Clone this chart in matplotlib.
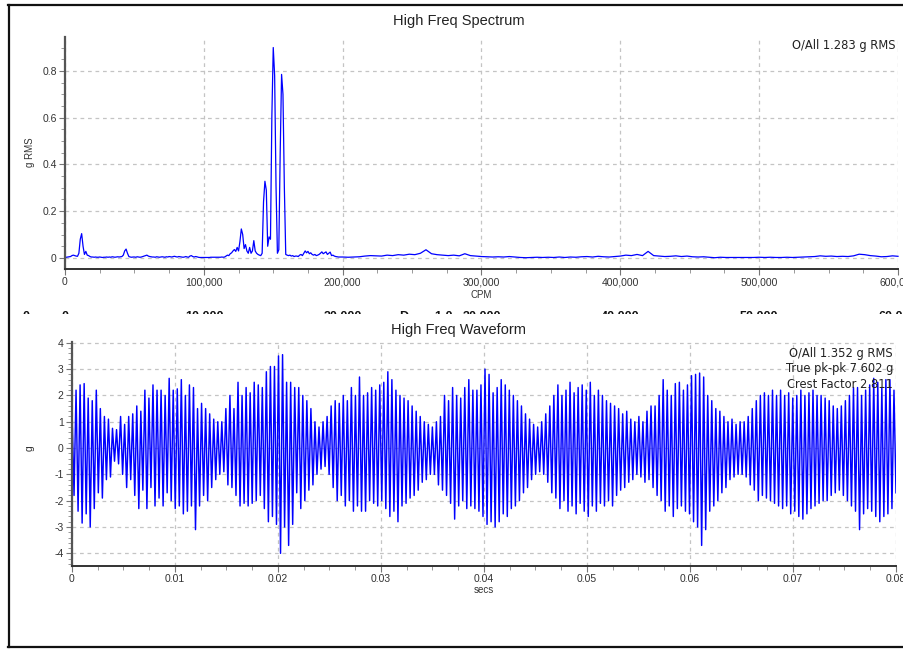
import numpy as np
import matplotlib
matplotlib.use('Agg')
import matplotlib.pyplot as plt
from matplotlib.ticker import MultipleLocator, FuncFormatter
from matplotlib.transforms import Bbox

plt.rcParams['font.family'] = ['Liberation Sans', 'DejaVu Sans']

# --- spectrum (g RMS), 0..199k CPM every 1000 CPM ---
spec_lo_step = 1000
spec_lo = [
    0.002, 0.003, 0.004, 0.005, 0.006, 0.01, 0.012, 0.01, 0.008, 0.007,
    0.02, 0.08, 0.104, 0.05, 0.015, 0.028, 0.012, 0.01, 0.006, 0.004,
    0.004, 0.003, 0.004, 0.003, 0.003, 0.004, 0.003, 0.002, 0.003, 0.003,
    0.004, 0.003, 0.004, 0.003, 0.005, 0.004, 0.003, 0.004, 0.005, 0.004,
    0.005, 0.006, 0.012, 0.03, 0.038, 0.02, 0.006, 0.004, 0.003, 0.004,
    0.004, 0.003, 0.005, 0.004, 0.003, 0.004, 0.006, 0.008, 0.01, 0.012,
    0.008, 0.006, 0.005, 0.004, 0.004, 0.003, 0.005, 0.004, 0.003, 0.004,
    0.005, 0.004, 0.003, 0.005, 0.004, 0.006, 0.005, 0.004, 0.006, 0.007,
    0.005, 0.004, 0.006, 0.005, 0.004, 0.003, 0.004, 0.006, 0.004, 0.003,
    0.008, 0.01, 0.006, 0.004, 0.006, 0.005, 0.003, 0.002, 0.002, 0.002,
    0.002, 0.002, 0.002, 0.002, 0.002, 0.003, 0.003, 0.003, 0.003, 0.003,
    0.003, 0.003, 0.003, 0.004, 0.003, 0.004, 0.008, 0.012, 0.01, 0.018,
    0.022, 0.03, 0.036, 0.028, 0.045, 0.03, 0.07, 0.124, 0.1, 0.04,
    0.057, 0.03, 0.02, 0.045, 0.02, 0.03, 0.074, 0.03, 0.02, 0.015,
    0.012, 0.01, 0.02, 0.24, 0.328, 0.29, 0.05, 0.09, 0.08, 0.606,
    0.9, 0.78, 0.306, 0.02, 0.035, 0.448, 0.785, 0.70, 0.30, 0.015,
    0.012, 0.01, 0.012, 0.008, 0.01, 0.006, 0.008, 0.008, 0.006, 0.012,
    0.015, 0.01, 0.02, 0.03, 0.022, 0.028, 0.018, 0.022, 0.015, 0.012,
    0.015, 0.01, 0.012, 0.015, 0.02, 0.026, 0.018, 0.022, 0.026, 0.015,
    0.02, 0.025, 0.01, 0.012, 0.008, 0.006, 0.005, 0.004, 0.004, 0.004,
]
# 200k..600k CPM every 4000 CPM
spec_hi_start = 200000
spec_hi_step = 4000
spec_hi = [
    0.004, 0.003, 0.004, 0.005, 0.008, 0.01, 0.009, 0.008, 0.012, 0.01,
    0.014, 0.012, 0.016, 0.014, 0.02, 0.035, 0.018, 0.014, 0.012, 0.01,
    0.012, 0.009, 0.018, 0.01, 0.008, 0.006, 0.005, 0.004, 0.005, 0.004,
    0.006, 0.004, 0.002, 0.001, 0.002, 0.003, 0.002, 0.003, 0.002, 0.004,
    0.002, 0.004, 0.003, 0.005, 0.006, 0.004, 0.007, 0.005, 0.004, 0.006,
    0.008, 0.012, 0.01, 0.015, 0.01, 0.028, 0.01, 0.008, 0.006, 0.007,
    0.009, 0.006, 0.008, 0.005, 0.004, 0.005, 0.003, 0.001, 0.003, 0.002,
    0.002, 0.002, 0.002, 0.002, 0.002, 0.003, 0.002, 0.003, 0.002, 0.002,
    0.003, 0.002, 0.003, 0.004, 0.005, 0.006, 0.009, 0.007, 0.008, 0.006,
    0.007, 0.006, 0.009, 0.016, 0.014, 0.01, 0.008, 0.005, 0.006, 0.009,
    0.007,
]

# --- waveform (g): positive / negative peak of each cycle over 0.08 s ---
wave_span = 0.08
wave_pos = [
    1.5, 2.2, 2.4, 2.45, 1.9, 1.8, 2.2, 1.5, 1.2, 1.1,
    0.75, 0.7, 1.2, 0.9, 1.2, 1.3, 1.6, 1.4, 2.2, 1.9,
    2.4, 2.2, 2.2, 2.0, 2.65, 2.2, 2.25, 2.6, 2.0, 2.4,
    2.3, 1.5, 1.7, 1.5, 1.3, 1.1, 1.0, 1.0, 1.5, 2.0,
    1.5, 2.5, 2.0, 2.3, 2.1, 2.5, 2.4, 2.3, 2.9, 3.1,
    3.1, 3.5, 3.55, 2.5, 2.5, 2.3, 2.3, 2.0, 1.8, 1.5,
    1.0, 0.8, 1.0, 1.2, 1.6, 1.8, 1.7, 2.0, 1.8, 2.3,
    2.0, 2.7, 2.0, 2.1, 2.3, 2.2, 2.4, 2.5, 2.9, 2.6,
    2.2, 2.0, 1.9, 1.8, 1.6, 1.4, 1.2, 1.0, 0.9, 0.8,
    1.0, 1.2, 2.0, 1.8, 2.3, 2.0, 1.9, 2.3, 2.6, 2.2,
    2.2, 2.4, 3.0, 2.8, 2.1, 2.3, 2.6, 2.4, 2.2, 2.0,
    1.8, 1.6, 1.3, 1.1, 0.9, 0.8, 1.0, 1.3, 1.6, 2.0,
    2.4, 2.0, 2.2, 2.5, 2.1, 2.3, 2.4, 2.2, 2.5, 2.0,
    2.2, 2.0, 1.8, 1.7, 1.6, 1.5, 1.3, 1.4, 1.1, 1.0,
    1.2, 1.0, 1.4, 1.6, 1.6, 2.0, 2.6, 2.2, 2.0, 2.45,
    2.5, 2.2, 2.4, 2.75, 2.8, 2.85, 2.7, 2.0, 1.8, 1.5,
    1.4, 1.2, 1.0, 1.1, 0.9, 1.0, 1.0, 1.2, 1.5, 1.8,
    2.0, 2.1, 2.0, 2.2, 2.0, 2.2, 2.0, 2.1, 1.9, 2.0,
    2.2, 2.0, 2.1, 2.2, 2.0, 2.0, 1.9, 1.8, 1.6, 1.5,
    1.6, 1.8, 2.0, 2.3, 2.3, 2.0, 2.2, 2.4, 2.65, 2.5,
    2.3, 2.6, 2.6, 2.2,
]
wave_neg = [
    -1.8, -2.4, -2.85, -2.5, -3.0, -2.3, -1.7, -1.9, -1.2, -1.1,
    -0.5, -0.6, -1.0, -1.5, -1.2, -1.8, -2.3, -1.6, -2.3, -1.5,
    -2.2, -1.9, -2.2, -1.7, -2.0, -2.3, -2.2, -2.5, -2.4, -2.2,
    -3.1, -2.2, -1.8, -2.0, -1.5, -1.2, -1.0, -0.9, -1.4, -1.5,
    -1.8, -2.2, -2.1, -2.2, -2.1, -2.0, -1.8, -2.3, -2.8, -2.6,
    -2.9, -4.0, -3.0, -3.7, -2.9, -1.7, -2.3, -2.0, -1.6, -1.4,
    -1.0, -0.8, -0.7, -1.0, -1.5, -2.0, -1.8, -2.2, -2.0, -2.4,
    -2.2, -2.4, -2.4, -2.0, -2.1, -2.2, -2.0, -2.3, -2.6, -2.4,
    -2.8, -2.2, -2.1, -1.9, -1.8, -1.6, -1.3, -1.2, -1.0, -1.0,
    -1.4, -1.6, -1.8, -2.1, -2.7, -2.2, -2.0, -2.3, -2.2, -2.3,
    -2.4, -2.6, -2.9, -2.8, -3.0, -2.8, -2.5, -2.6, -2.3, -2.2,
    -2.0, -1.7, -1.5, -1.2, -1.0, -0.9, -1.0, -1.3, -1.7, -1.9,
    -2.3, -2.0, -2.4, -2.2, -2.5, -2.1, -2.4, -2.6, -2.2, -2.4,
    -2.1, -2.2, -2.0, -2.2, -1.8, -1.6, -1.5, -1.3, -1.2, -1.0,
    -1.1, -1.3, -1.2, -1.5, -1.8, -2.0, -2.4, -2.2, -2.6, -2.3,
    -2.2, -2.4, -2.5, -2.8, -3.0, -3.7, -3.1, -2.4, -2.2, -2.0,
    -1.7, -1.5, -1.2, -1.1, -1.0, -1.0, -1.1, -1.4, -1.6, -2.0,
    -1.8, -1.9, -2.0, -2.1, -2.2, -2.3, -2.2, -2.5, -2.4, -2.6,
    -2.7, -2.5, -2.3, -2.2, -2.1, -2.0, -2.0, -1.8, -1.7, -1.6,
    -1.8, -2.0, -2.2, -2.4, -3.1, -2.5, -2.3, -2.4, -2.6, -2.8,
    -2.6, -2.5, -2.3, -1.7,
]

spec_title = 'High Freq Spectrum'
wave_title = 'High Freq Waveform'
spec_note = ['O/All 1.283 g RMS']
wave_notes = ['O/All 1.352 g RMS', 'True pk-pk 7.602 g', 'Crest Factor 2.811']
# clipped tick labels of a hidden chart between the two plots
ghost_labels = ['0', '0', '10,000', '20,000', 'D', '1 0', '30,000', '40,000', '50,000', '60,000']
ghost_x = [26, 65, 205, 343, 404, 444, 482, 620, 759, 898]

W, H = 904, 649
fig = plt.figure(figsize=(W / 100, H / 100), dpi=100)
fig.patch.set_facecolor('white')

def fx(px):
    return px / W

def fy(py):
    return 1 - py / H

grid_kw = dict(color='#c4c4c4', linestyle=(0, (3, 3)), linewidth=0.9)
tick_col = '#333333'


def style_axes(ax):
    for s in ['top', 'right']:
        ax.spines[s].set_visible(False)
    ax.spines['left'].set_color('#555555')
    ax.spines['left'].set_linewidth(1.6)
    ax.spines['bottom'].set_color('#333333')
    ax.spines['bottom'].set_linewidth(1.4)
    ax.tick_params(which='major', direction='out', length=4, width=0.8,
                   color='#777777', labelsize=7.5, labelcolor=tick_col, pad=2)
    ax.tick_params(which='minor', direction='out', length=3, width=0.7,
                   color='#999999')
    ax.grid(True, which='major', **grid_kw)
    ax.set_axisbelow(True)


# --- spectrum ---
ax1 = fig.add_axes([fx(65), fy(268.7), fx(898 - 65), (268.7 - 37) / H])
cpm = np.concatenate([np.arange(len(spec_lo)) * spec_lo_step,
                      spec_hi_start + np.arange(len(spec_hi)) * spec_hi_step])
amp = np.concatenate([spec_lo, spec_hi])
ax1.plot(cpm, amp, color='#0000ff', lw=0.9, clip_on=False)
ax1.set_xlim(0, 600000)
ax1.xaxis.set_major_locator(MultipleLocator(100000))
ax1.xaxis.set_minor_locator(MultipleLocator(25000))
ax1.yaxis.set_major_locator(MultipleLocator(0.2))
ax1.yaxis.set_minor_locator(MultipleLocator(0.05))
ax1.xaxis.set_major_formatter(FuncFormatter(lambda v, p: f'{v:,.0f}'))
ax1.yaxis.set_major_formatter(FuncFormatter(lambda v, p: f'{v:g}'))
style_axes(ax1)
ax1.set_ylim(-0.046, 0.945)

# --- waveform ---
ax2 = fig.add_axes([fx(72), fy(565.7), fx(896 - 72), (565.7 - 342) / H])
g = np.empty(2 * len(wave_pos))
g[0::2] = wave_pos
g[1::2] = wave_neg
t = np.linspace(0, wave_span, len(g))
ax2.plot(t, g, color='#0000ff', lw=1.05)
ax2.set_xlim(0, wave_span)
ax2.set_ylim(-4.47, 4.03)
ax2.xaxis.set_major_locator(MultipleLocator(0.01))
ax2.xaxis.set_minor_locator(MultipleLocator(0.0025))
ax2.yaxis.set_major_locator(MultipleLocator(1))
ax2.yaxis.set_minor_locator(MultipleLocator(0.2))
ax2.xaxis.set_major_formatter(FuncFormatter(lambda v, p: f'{v:g}'))
ax2.yaxis.set_major_formatter(FuncFormatter(lambda v, p: f'{v:g}'))
style_axes(ax2)

# titles and axis names
fig.text(fx(459), fy(21), spec_title, ha='center', va='center', fontsize=10.5, color='#222222')
fig.text(fx(459), fy(330), wave_title, ha='center', va='center', fontsize=10.5, color='#222222')
fig.text(fx(30), fy(152), 'g RMS', rotation=90, ha='center', va='center', fontsize=7, color=tick_col)
fig.text(fx(481), fy(295), 'CPM', ha='center', va='center', fontsize=7, color=tick_col)
fig.text(fx(30), fy(448), 'g', rotation=90, ha='center', va='center', fontsize=7.5, color=tick_col)
fig.text(fx(484), fy(590), 'secs', ha='center', va='center', fontsize=7, color=tick_col)

# overall values
for i, s in enumerate(spec_note):
    fig.text(fx(896), fy(45 + 16 * i), s, ha='right', va='center', fontsize=8.3,
             family='DejaVu Sans', color='#222222')
for i, s in enumerate(wave_notes):
    fig.text(fx(893), fy(353 + 15.8 * i), s, ha='right', va='center', fontsize=8.3,
             family='DejaVu Sans', color='#222222')

# clipped label tops in the strip between the plots
clip = Bbox.from_extents(0, H - 313.5, W, H - 309.0)
for s, x in zip(ghost_labels, ghost_x):
    tx = fig.text(fx(x), fy(317), s, ha='center', va='center', fontsize=9,
                  fontweight='bold', color='#111111')
    tx.set_clip_box(clip)
    tx.set_clip_on(True)

# outer frame
for xs, ys in [([8, 904], [5, 5]), ([8.5, 8.5], [5, 647]), ([8, 904], [647, 647])]:
    fig.add_artist(plt.Line2D([fx(v) for v in xs], [fy(v) for v in ys],
                              color='#111111', lw=1.6))

fig.savefig('out.png', dpi=100)
